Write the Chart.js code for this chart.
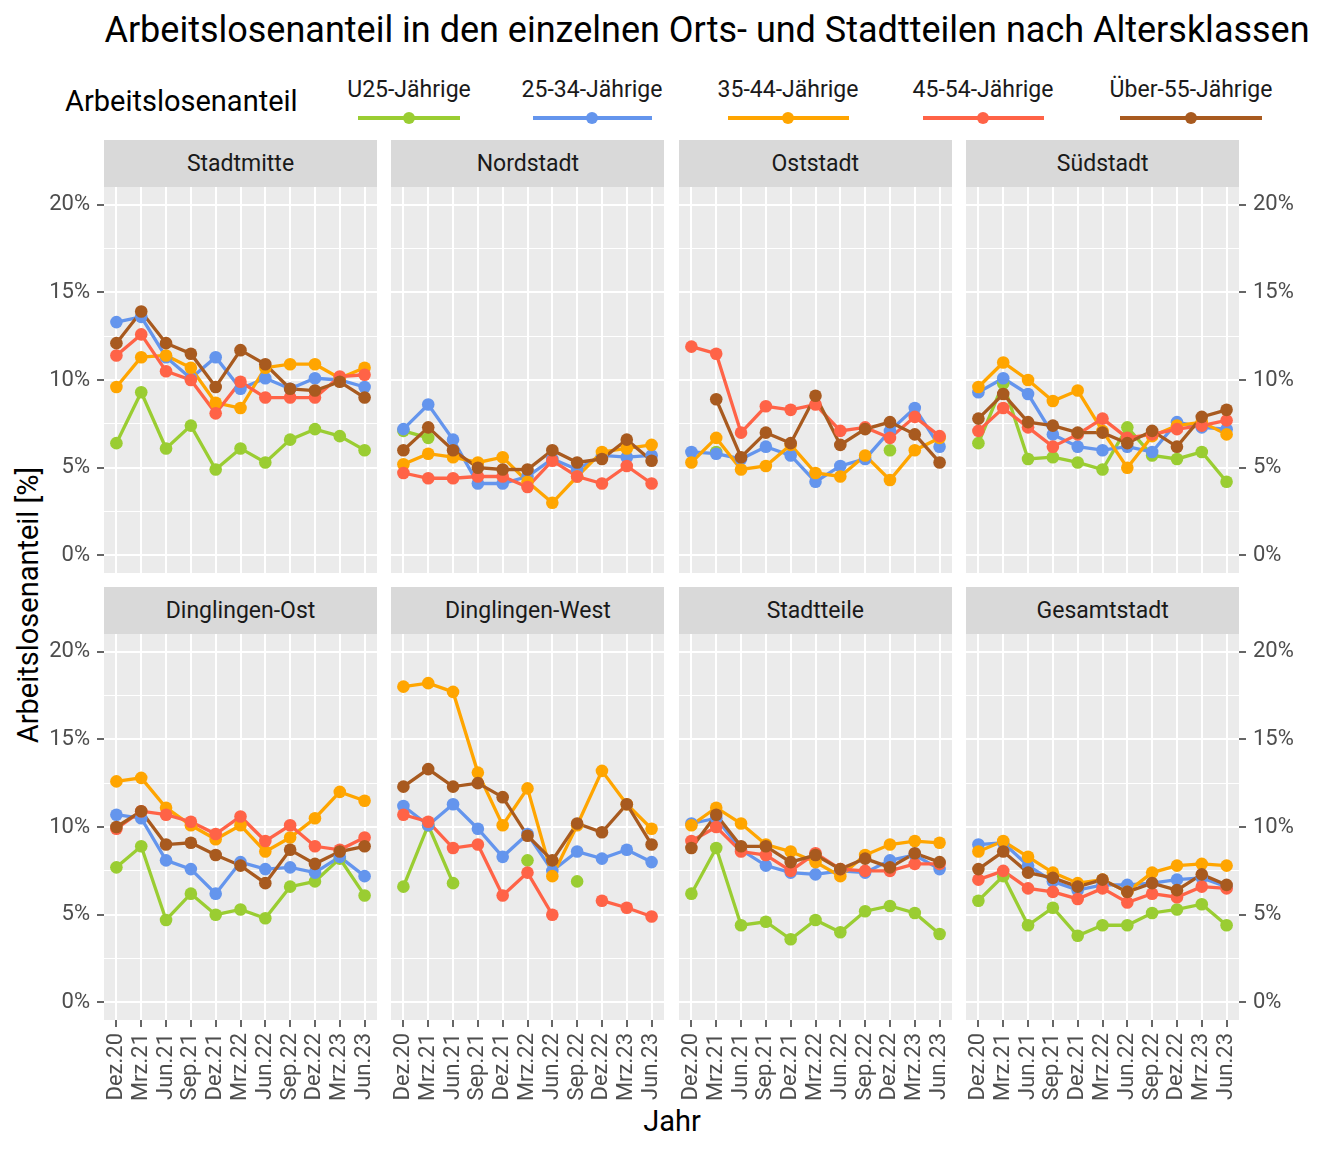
<!DOCTYPE html>
<html lang="de">
<head>
<meta charset="utf-8">
<script src="https://cdn.jsdelivr.net/npm/chart.js@4.4.1/dist/chart.umd.min.js"></script>
<style>
    body { margin: 0; background: #fff; font-family: Roboto, "DejaVu Sans", sans-serif; }
    #page { position: relative; width: 1344px; height: 1152px; overflow: hidden; }
    .abs { position: absolute; }
    .strip {
        position: absolute; background: #D9D9D9; color: #1A1A1A;
        font-size: 23px; display: flex; align-items: center; justify-content: center;
    }
    .legend-label { position: absolute; font-size: 23px; color: #1A1A1A; transform: translateX(-50%); white-space: nowrap; }
    .legend-line { position: absolute; height: 4px; }
    .legend-dot { position: absolute; width: 12px; height: 12px; border-radius: 50%; }
    canvas { position: absolute; }
</style>
</head>
<body>
<div id="page">
    <div class="abs" style="left:707px;top:30px;font-size:36px;color:#000;white-space:nowrap;transform:translate(-50%,-50%);">Arbeitslosenanteil in den einzelnen Orts- und Stadtteilen nach Altersklassen</div>
    <div class="abs" style="left:65px;top:84px;font-size:29px;color:#000;">Arbeitslosenanteil</div>
    <div class="abs" style="left:28px;top:605px;font-size:29px;color:#000;white-space:nowrap;transform:translate(-50%,-50%) rotate(-90deg);">Arbeitslosenanteil [%]</div>
    <div class="abs" style="left:672px;top:1121px;font-size:29px;color:#000;transform:translate(-50%,-50%);">Jahr</div>
</div>
<script>
const quarters = ["Dez.20", "Mrz.21", "Jun.21", "Sep.21", "Dez.21", "Mrz.22", "Jun.22", "Sep.22", "Dez.22", "Mrz.23", "Jun.23"];
const ageGroups = ["U25-Jährige", "25-34-Jährige", "35-44-Jährige", "45-54-Jährige", "Über-55-Jährige"];
const districts = ["Stadtmitte", "Nordstadt", "Oststadt", "Südstadt", "Dinglingen-Ost", "Dinglingen-West", "Stadtteile", "Gesamtstadt"];
const yTickValues = [0, 5, 10, 15, 20];
const yGridValues = [0, 2.5, 5, 7.5, 10, 12.5, 15, 17.5, 20];

// rows: U25, 25-34, 35-44, 45-54, Über-55
const stadtmitte = [
    [6.4, 9.3, 6.1, 7.4, 4.9, 6.1, 5.3, 6.6, 7.2, 6.8, 6.0],
    [13.3, 13.6, 11.3, 10.1, 11.3, 9.5, 10.1, 9.5, 10.1, 10.0, 9.6],
    [9.6, 11.3, 11.4, 10.7, 8.7, 8.4, 10.7, 10.9, 10.9, 10.1, 10.7],
    [11.4, 12.6, 10.5, 10.0, 8.1, 9.9, 9.0, 9.0, 9.0, 10.2, 10.3],
    [12.1, 13.9, 12.1, 11.5, 9.6, 11.7, 10.9, 9.5, 9.4, 9.9, 9.0],
];
const nordstadt = [
    [7.1, 6.7, null, null, null, null, null, null, null, null, null],
    [7.2, 8.6, 6.6, 4.1, 4.1, 4.5, 5.5, 4.9, 5.7, 5.6, 5.7],
    [5.2, 5.8, 5.6, 5.3, 5.6, 4.2, 3.0, 4.5, 5.9, 6.1, 6.3],
    [4.7, 4.4, 4.4, 4.5, 4.5, 3.9, 5.4, 4.5, 4.1, 5.1, 4.1],
    [6.0, 7.3, 6.0, 5.0, 4.9, 4.9, 6.0, 5.3, 5.5, 6.6, 5.4],
];
const oststadt = [
    [null, 5.9, null, null, null, null, null, null, 6.0, null, null],
    [5.9, 5.8, 5.5, 6.2, 5.7, 4.2, 5.1, 5.5, 7.1, 8.4, 6.2],
    [5.3, 6.7, 4.9, 5.1, 6.3, 4.7, 4.5, 5.7, 4.3, 6.0, 6.7],
    [11.9, 11.5, 7.0, 8.5, 8.3, 8.6, 7.1, 7.3, 6.7, 7.9, 6.8],
    [null, 8.9, 5.6, 7.0, 6.4, 9.1, 6.3, 7.2, 7.6, 6.9, 5.3],
];
const suedstadt = [
    [6.4, 9.8, 5.5, 5.6, 5.3, 4.9, 7.3, 5.7, 5.5, 5.9, 4.2],
    [9.3, 10.1, 9.2, 6.9, 6.2, 6.0, 6.2, 5.9, 7.6, 7.3, 7.2],
    [9.6, 11.0, 10.0, 8.8, 9.4, 7.1, 5.0, 6.8, 7.4, 7.6, 6.9],
    [7.1, 8.4, 7.3, 6.2, 6.9, 7.8, 6.7, 6.9, 7.2, 7.4, 7.7],
    [7.8, 9.2, 7.6, 7.4, 7.0, 7.0, 6.4, 7.1, 6.2, 7.9, 8.3],
];
const dinglingenOst = [
    [7.7, 8.9, 4.7, 6.2, 5.0, 5.3, 4.8, 6.6, 6.9, 8.2, 6.1],
    [10.7, 10.5, 8.1, 7.6, 6.2, 8.0, 7.6, 7.7, 7.4, 8.3, 7.2],
    [12.6, 12.8, 11.1, 10.1, 9.3, 10.1, 8.6, 9.4, 10.5, 12.0, 11.5],
    [9.9, 10.9, 10.7, 10.3, 9.6, 10.6, 9.2, 10.1, 8.9, 8.7, 9.4],
    [10.0, 10.9, 9.0, 9.1, 8.4, 7.8, 6.8, 8.7, 7.9, 8.6, 8.9],
];
const dinglingenWest = [
    [6.6, 10.1, 6.8, null, null, 8.1, null, 6.9, null, null, null],
    [11.2, 10.1, 11.3, 9.9, 8.3, 9.6, 7.5, 8.6, 8.2, 8.7, 8.0],
    [18.0, 18.2, 17.7, 13.1, 10.1, 12.2, 7.2, 10.1, 13.2, 11.3, 9.9],
    [10.7, 10.3, 8.8, 9.0, 6.1, 7.4, 5.0, null, 5.8, 5.4, 4.9],
    [12.3, 13.3, 12.3, 12.5, 11.7, 9.5, 8.1, 10.2, 9.7, 11.3, 9.0],
];
const stadtteile = [
    [6.2, 8.8, 4.4, 4.6, 3.6, 4.7, 4.0, 5.2, 5.5, 5.1, 3.9],
    [10.2, 10.5, 8.7, 7.8, 7.4, 7.3, 7.5, 7.4, 8.1, 8.4, 7.6],
    [10.1, 11.1, 10.2, 9.0, 8.6, 8.0, 7.2, 8.4, 9.0, 9.2, 9.1],
    [9.2, 10.0, 8.6, 8.4, 7.5, 8.5, 7.6, 7.5, 7.5, 7.9, 7.9],
    [8.8, 10.7, 8.9, 8.9, 8.0, 8.4, 7.6, 8.2, 7.7, 8.5, 8.0],
];
const gesamtstadt = [
    [5.8, 7.2, 4.4, 5.4, 3.8, 4.4, 4.4, 5.1, 5.3, 5.6, 4.4],
    [9.0, 9.1, 7.8, 6.9, 6.4, 6.7, 6.7, 6.8, 7.0, 7.1, 6.6],
    [8.6, 9.2, 8.3, 7.4, 6.8, 7.0, 6.3, 7.4, 7.8, 7.9, 7.8],
    [7.0, 7.5, 6.5, 6.3, 5.9, 6.5, 5.7, 6.2, 6.0, 6.6, 6.5],
    [7.6, 8.6, 7.4, 7.1, 6.6, 7.0, 6.3, 6.8, 6.4, 7.3, 6.7],
];
const districtValues = [stadtmitte, nordstadt, oststadt, suedstadt, dinglingenOst, dinglingenWest, stadtteile, gesamtstadt];

const palette = ["#9ACD32", "#6495ED", "#FFA500", "#FF6347", "#A85A1F"];
const FONT = "Roboto";

// layout
const PANEL_LEFT = 104, PANEL_STEP = 287.4, PANEL_W = 273, PANEL_H = 386;
const ROW_TOP = [187, 634];
const STRIP_H = 47;
const AXIS_W = 70, AXIS_H = 95;
const legendLayout = [
    { cx: 409, w: 102 }, { cx: 592, w: 119 }, { cx: 788, w: 121 }, { cx: 983, w: 121 }, { cx: 1191, w: 142 },
];

const page = document.getElementById("page");

ageGroups.forEach((name, i) => {
    const { cx, w } = legendLayout[i];
    const label = document.createElement("div");
    label.className = "legend-label";
    label.style.left = cx + "px";
    label.style.top = "76px";
    label.textContent = name;
    page.appendChild(label);

    const line = document.createElement("div");
    line.className = "legend-line";
    line.style.left = (cx - w / 2) + "px";
    line.style.width = w + "px";
    line.style.top = "116px";
    line.style.background = palette[i];
    page.appendChild(line);

    const dot = document.createElement("div");
    dot.className = "legend-dot";
    dot.style.left = (cx - 6) + "px";
    dot.style.top = "112px";
    dot.style.background = palette[i];
    page.appendChild(dot);
});

const panelBg = {
    id: "panelBg",
    beforeDraw(chart) {
        const { ctx, chartArea: a } = chart;
        ctx.save();
        ctx.fillStyle = "#EBEBEB";
        ctx.fillRect(a.left, a.top, a.width, a.height);
        ctx.restore();
    }
};

// keep the plot area fixed: no extra room for overhanging labels
function noPadding(ax) {
    ax.paddingTop = 0;
    ax.paddingBottom = 0;
    ax.paddingLeft = 0;
    ax.paddingRight = 0;
}

districts.forEach((district, p) => {
    const row = Math.floor(p / 4);
    const col = p % 4;
    const values = districtValues[p];
    const left = PANEL_LEFT + col * PANEL_STEP;
    const top = ROW_TOP[row];
    const showY = col === 0 || col === 3;
    const showX = row === 1;
    const padL = col === 0 ? AXIS_W : 0;
    const padR = col === 3 ? AXIS_W : 0;
    const padB = showX ? AXIS_H : 0;

    const strip = document.createElement("div");
    strip.className = "strip";
    strip.style.left = left + "px";
    strip.style.top = (top - STRIP_H) + "px";
    strip.style.width = PANEL_W + "px";
    strip.style.height = STRIP_H + "px";
    strip.textContent = district;
    page.appendChild(strip);

    const canvas = document.createElement("canvas");
    canvas.width = Math.round(PANEL_W + padL + padR);
    canvas.height = PANEL_H + padB;
    canvas.style.left = Math.round(left - padL) + "px";
    canvas.style.top = top + "px";
    page.appendChild(canvas);

    const lineSets = ageGroups.map((g, i) => ({
        label: g,
        data: values[i],
        borderColor: palette[i],
        borderWidth: 3.3,
        pointRadius: 0,
        pointHoverRadius: 0,
        tension: 0,
        spanGaps: false,
        order: 20 - i,
    }));
    const pointSets = ageGroups.map((g, i) => ({
        label: g,
        data: values[i],
        showLine: false,
        pointRadius: 6.3,
        pointBorderWidth: 0,
        pointBackgroundColor: palette[i],
        borderColor: palette[i],
        order: 10 - i,
    }));

    new Chart(canvas.getContext("2d"), {
        type: "line",
        data: { labels: quarters, datasets: [...lineSets, ...pointSets] },
        plugins: [panelBg],
        options: {
            responsive: false,
            animation: false,
            layout: { padding: 0, autoPadding: false },
            plugins: { legend: { display: false }, tooltip: { enabled: false } },
            events: [],
            scales: {
                x: {
                    type: "category",
                    offset: true,
                    afterFit: (ax) => { ax.height = showX ? AXIS_H : 0; noPadding(ax); },
                    grid: {
                        color: "#FFFFFF",
                        lineWidth: 2,
                        offset: false,
                        drawTicks: showX,
                        tickLength: 7,
                        tickWidth: 1.5,
                        tickColor: "#333333",
                    },
                    border: { display: false },
                    ticks: {
                        display: showX,
                        autoSkip: false,
                        minRotation: 90,
                        maxRotation: 90,
                        padding: 6,
                        color: "#4D4D4D",
                        font: { family: FONT, size: 22 },
                    },
                },
                y: {
                    type: "linear",
                    min: -1,
                    max: 21,
                    position: col === 3 ? "right" : "left",
                    afterBuildTicks: (ax) => { ax.ticks = yGridValues.map((v) => ({ value: v })); },
                    afterFit: (ax) => { ax.width = showY ? AXIS_W : 0; noPadding(ax); },
                    grid: {
                        color: "#FFFFFF",
                        lineWidth: (c) => (c.tick && yTickValues.includes(c.tick.value) ? 2 : 1),
                        drawTicks: showY,
                        tickLength: 7,
                        tickWidth: 1.5,
                        tickColor: (c) => (c.tick && yTickValues.includes(c.tick.value) ? "#333333" : "rgba(0,0,0,0)"),
                    },
                    border: { display: false },
                    ticks: {
                        display: showY,
                        autoSkip: false,
                        padding: 7,
                        color: "#4D4D4D",
                        font: { family: FONT, size: 22 },
                        callback: (v) => (yTickValues.includes(v) ? v + "%" : ""),
                    },
                },
            },
        },
    });
});
</script>
</body>
</html>
